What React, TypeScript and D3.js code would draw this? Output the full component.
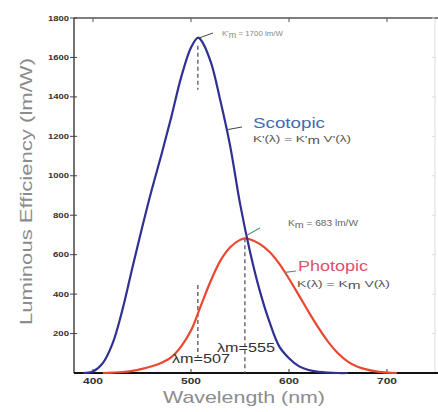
import * as d3 from 'd3'

// scotopic K'(λ) and photopic K(λ), lm/W
const scotopicNm = [390, 400, 410, 420, 430, 440, 450, 460, 470, 480, 490, 500, 507, 510, 520, 530, 540, 550, 560, 570, 580, 590, 600, 610, 620, 630, 640, 650, 660]
const scotopicK = [0, 8, 50, 150, 320, 530, 735, 930, 1110, 1300, 1500, 1650, 1700, 1690, 1580, 1380, 1150, 860, 620, 420, 260, 135, 75, 35, 15, 6, 2, 0, 0]

const photopicNm = [410, 420, 430, 440, 450, 460, 470, 480, 490, 500, 510, 520, 530, 540, 550, 555, 560, 570, 580, 590, 600, 610, 620, 630, 640, 650, 660, 670, 680, 690, 700, 710]
const photopicK = [0, 2, 5, 11, 21, 34, 52, 80, 135, 215, 340, 465, 570, 638, 675, 683, 678, 655, 615, 555, 478, 395, 310, 230, 158, 100, 58, 32, 17, 7, 2, 0]

const xTicks = [400, 500, 600, 700]
const yTicks = [200, 400, 600, 800, 1000, 1200, 1400, 1600, 1800]

const W = 438
const H = 412
const margin = { top: 18, right: 3, bottom: 39, left: 74 }

const BLUE = '#2e3192'
const RED = '#e9472f'
const GRAY = '#8c8c8c'
const DASH = '#555'
const font = '"Liberation Sans", Arial, sans-serif'

export default function App() {
  const x = d3.scaleLinear().domain([380.6, 749]).range([margin.left, W - margin.right])
  const y = d3.scaleLinear().domain([0, 1800]).range([H - margin.bottom, margin.top])

  const line = d3.line<[number, number]>()
    .x(d => x(d[0]))
    .y(d => Math.min(y(0), y(d[1])))
    .curve(d3.curveCatmullRom.alpha(0.5))

  const scot = line(scotopicNm.map((n, i) => [n, scotopicK[i]]))
  const phot = line(photopicNm.map((n, i) => [n, photopicK[i]]))

  const x0 = margin.left
  const x1 = W - margin.right
  const y0 = H - margin.bottom
  const y1 = margin.top

  return (
    <svg width={W} height={H} style={{ position: 'absolute', left: 0, top: 0, background: '#fff' }} fontFamily={font}>
      {/* frame */}
      <line x1={x1} x2={x1} y1={y1} y2={y0} stroke="#ddd" strokeWidth={1} />
      <line x1={x0} x2={W} y1={y1} y2={y1} stroke="#555" strokeWidth={1.5} />
      <line x1={x0} x2={x0} y1={y1} y2={y0} stroke="#444" strokeWidth={1.5} />
      <line x1={x0} x2={W} y1={y0} y2={y0} stroke="#111" strokeWidth={2} />

      {/* y ticks */}
      {yTicks.map(t => (
        <g key={'y' + t}>
          <line x1={x0 - 4} x2={x0 + 3} y1={y(t)} y2={y(t)} stroke="#444" strokeWidth={1} />
          <line x1={x1 - 3} x2={x1} y1={y(t)} y2={y(t)} stroke="#ddd" strokeWidth={1} />
          <text x={x0 - 5} y={y(t) + 2.5} fontSize={7.5} fill="#333" textAnchor="end" fontWeight="bold"
            textLength={t >= 1000 ? 21 : 16} lengthAdjust="spacingAndGlyphs">{t}</text>
        </g>
      ))}

      {/* x ticks */}
      {xTicks.map(t => (
        <g key={'x' + t}>
          <line x1={x(t)} x2={x(t)} y1={y0} y2={y0 - 4} stroke="#333" strokeWidth={1} />
          <line x1={x(t)} x2={x(t)} y1={y1} y2={y1 + 4} stroke="#555" strokeWidth={1} />
          <text x={x(t)} y={y0 + 11} fontSize={8.5} fill="#333" textAnchor="middle" fontWeight="bold"
            textLength={20} lengthAdjust="spacingAndGlyphs">{t}</text>
        </g>
      ))}

      {/* axis titles */}
      <text x={163} y={403} fontSize={17} fill={GRAY} textLength={162} lengthAdjust="spacingAndGlyphs">Wavelength (nm)</text>
      <text transform="translate(32,325) rotate(-90)" fontSize={17} fill={GRAY} textLength={267} lengthAdjust="spacingAndGlyphs">Luminous Efficiency (lm/W)</text>

      {/* dashed markers */}
      <line x1={x(507)} x2={x(507)} y1={y(1700) + 8} y2={y(1700) + 52} stroke={DASH} strokeWidth={1.3} strokeDasharray="4,3" />
      <line x1={x(507)} x2={x(507)} y1={285} y2={357} stroke={DASH} strokeWidth={1.3} strokeDasharray="4,3" />
      <line x1={x(555)} x2={x(555)} y1={y(683)} y2={y0} stroke={DASH} strokeWidth={1.3} strokeDasharray="4,3" />

      {/* curves */}
      <path d={phot ?? ''} fill="none" stroke={RED} strokeWidth={2.2} />
      <path d={scot ?? ''} fill="none" stroke={BLUE} strokeWidth={2.2} />

      {/* scotopic annotations */}
      <line x1={x(509)} x2={213} y1={y(1700)} y2={33} stroke="#444" strokeWidth={1} />
      <text x={222} y={36} fontSize={7.5} fill="#888" textLength={61} lengthAdjust="spacingAndGlyphs">K'<tspan dy={1.5} fontSize={8.5}>m</tspan><tspan dy={-1.5}> = 1700 lm/W</tspan></text>
      <line x1={x(536)} x2={242} y1={y(1233)} y2={127} stroke="#444" strokeWidth={1} />
      <text x={253} y={128} fontSize={15} fill="#3f6cb0" textLength={72} lengthAdjust="spacingAndGlyphs">Scotopic</text>
      <text x={253} y={142} fontSize={9.5} fill="#555" textLength={98} lengthAdjust="spacingAndGlyphs">K'(λ) = K'<tspan dy={1.5} fontSize={10.5}>m</tspan><tspan dy={-1.5}> V'(λ)</tspan></text>

      {/* photopic annotations */}
      <line x1={x(557)} x2={260} y1={y(683) - 3} y2={228} stroke="#4f9a6a" strokeWidth={1.2} />
      <text x={288} y={226} fontSize={8.5} fill="#666" textLength={70} lengthAdjust="spacingAndGlyphs">K<tspan dy={1.5} fontSize={9}>m</tspan><tspan dy={-1.5}> = 683 lm/W</tspan></text>
      <line x1={x(596)} x2={296} y1={y(510)} y2={271} stroke="#5a8f7a" strokeWidth={1.2} />
      <text x={298} y={271} fontSize={15} fill="#e0506a" textLength={70} lengthAdjust="spacingAndGlyphs">Photopic</text>
      <text x={297} y={287} fontSize={9.5} fill="#555" textLength={93} lengthAdjust="spacingAndGlyphs">K(λ) = K<tspan dy={1.5} fontSize={10.5}>m</tspan><tspan dy={-1.5}> V(λ)</tspan></text>

      {/* peak wavelength labels */}
      <text x={217} y={352} fontSize={13} fill="#333" textLength={58} lengthAdjust="spacingAndGlyphs">λm=555</text>
      <text x={172} y={363} fontSize={13} fill="#333" textLength={58} lengthAdjust="spacingAndGlyphs">λm=507</text>
    </svg>
  )
}
